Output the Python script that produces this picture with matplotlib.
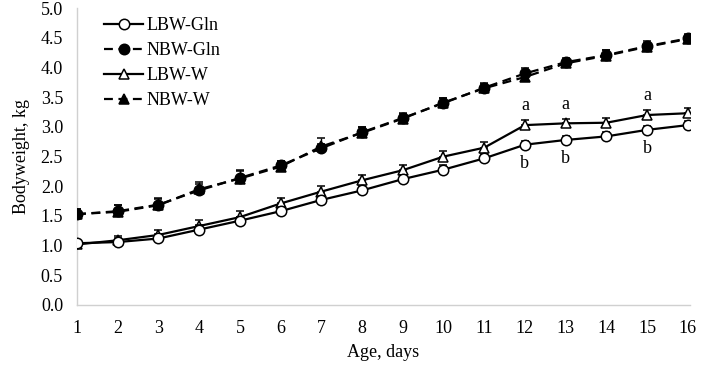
import matplotlib
matplotlib.use("Agg")
import matplotlib.pyplot as plt
from matplotlib.lines import Line2D

days = list(range(1, 17))
lbw_gln = [1.04, 1.06, 1.12, 1.27, 1.42, 1.58, 1.77, 1.93, 2.12, 2.28, 2.47, 2.70, 2.78, 2.84, 2.95, 3.03]
nbw_gln = [1.53, 1.58, 1.69, 1.93, 2.14, 2.35, 2.64, 2.91, 3.15, 3.40, 3.66, 3.90, 4.09, 4.21, 4.36, 4.49]
lbw_w   = [1.02, 1.09, 1.18, 1.33, 1.48, 1.71, 1.91, 2.10, 2.27, 2.50, 2.65, 3.03, 3.06, 3.07, 3.20, 3.23]
nbw_w   = [1.53, 1.57, 1.68, 1.95, 2.13, 2.33, 2.67, 2.90, 3.14, 3.41, 3.65, 3.84, 4.07, 4.20, 4.35, 4.48]
err_lbw_gln = [0.05, 0.06, 0.07, 0.07, 0.07, 0.07, 0.07, 0.07, 0.07, 0.07, 0.07, 0.07, 0.07, 0.07, 0.07, 0.07]
err_lbw_w   = [0.06, 0.08, 0.09, 0.10, 0.10, 0.10, 0.10, 0.09, 0.09, 0.09, 0.09, 0.09, 0.08, 0.08, 0.08, 0.08]
err_nbw_gln = [0.08, 0.10, 0.10, 0.10, 0.11, 0.08, 0.08, 0.09, 0.08, 0.08, 0.08, 0.09, 0.07, 0.09, 0.09, 0.07]
err_nbw_w   = [0.08, 0.12, 0.13, 0.13, 0.14, 0.09, 0.14, 0.09, 0.08, 0.08, 0.08, 0.08, 0.06, 0.09, 0.07, 0.07]
sig_days = [12, 13, 15]
yticks = [0.0, 0.5, 1.0, 1.5, 2.0, 2.5, 3.0, 3.5, 4.0, 4.5, 5.0]

plt.rcParams['font.family'] = ['Liberation Serif', 'DejaVu Serif']
fig = plt.figure(figsize=(7.02, 3.66), dpi=100)
ax = fig.add_axes([0.1097, 0.1667, 0.873, 0.811])

grey = '#d0d0d0'
FS = 13
dash = (0, (4, 2.5))
common = dict(color='black', linewidth=1.6, markersize=7.5, markeredgewidth=1.1,
              ecolor='black', elinewidth=1.0, capsize=3, capthick=1.0)
lo0 = [0] * 16

ax.errorbar(days, nbw_w, yerr=[lo0, err_nbw_w], marker='^', mfc='black', mec='black',
            linestyle=dash, zorder=3, **common)
ax.errorbar(days, nbw_gln, yerr=[lo0, err_nbw_gln], marker='o', mfc='black', mec='black',
            linestyle=dash, zorder=4, **common)
ax.errorbar(days, lbw_w, yerr=[lo0, err_lbw_w], marker='^', mfc='white', mec='black',
            linestyle='-', zorder=3, **common)
ax.errorbar(days, lbw_gln, yerr=[lo0, err_lbw_gln], marker='o', mfc='white', mec='black',
            linestyle='-', zorder=4, **common)

for d in sig_days:
    i = days.index(d)
    ax.text(d, lbw_w[i] + err_lbw_w[i] + 0.1, 'a', ha='center', va='bottom', fontsize=FS)
    ax.text(d, lbw_gln[i] - 0.17, 'b', ha='center', va='top', fontsize=FS)

ax.set_xlim(1, 16.05)
ax.set_ylim(0, 5.0)
ax.set_xticks(days)
ax.set_yticks(yticks)
ax.set_yticklabels([f'{v:.1f}' for v in yticks])
ax.tick_params(axis='both', length=0, labelsize=FS)
ax.tick_params(axis='x', pad=11)
ax.tick_params(axis='y', pad=10)
for s in ['top', 'right']:
    ax.spines[s].set_visible(False)
for s in ['left', 'bottom']:
    ax.spines[s].set_color(grey)
    ax.spines[s].set_linewidth(1.0)

ax.set_xlabel('Age, days', fontsize=FS, labelpad=5)
ax.set_ylabel('Bodyweight, kg', fontsize=FS, labelpad=8)

lk = dict(color='black', linewidth=1.6, markersize=7.5, markeredgewidth=1.1)
handles = [
    Line2D([], [], marker='o', mfc='white', mec='black', linestyle='-', **lk),
    Line2D([], [], marker='o', mfc='black', mec='black', linestyle=dash, **lk),
    Line2D([], [], marker='^', mfc='white', mec='black', linestyle='-', **lk),
    Line2D([], [], marker='^', mfc='black', mec='black', linestyle=dash, **lk),
]
labels = ['LBW-Gln', 'NBW-Gln', 'LBW-W', 'NBW-W']
ax.legend(handles, labels, loc='upper left', bbox_to_anchor=(0.017, 1.025),
          frameon=False, fontsize=FS, handlelength=2.2, handletextpad=0.2, labelspacing=0.45)

fig.savefig('out.png', dpi=100)
